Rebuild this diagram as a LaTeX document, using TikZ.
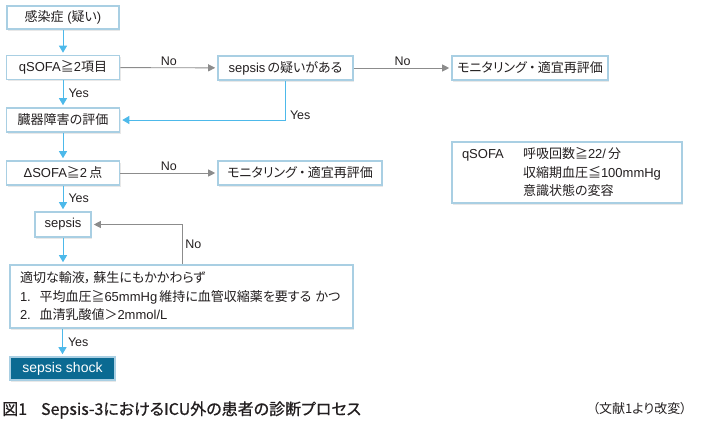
\documentclass[tikz,border=0pt]{standalone}
\usepackage{fontspec}
\setmainfont{Liberation Sans}
\newfontfamily\jpfont[RawFeature=+palt]{Noto Sans CJK JP}
\newfontfamily\jpcapfont[RawFeature=+palt,FakeBold=0.8]{Noto Sans CJK JP}
\newcommand\jx[1]{{\jpfont #1}}
\usetikzlibrary{arrows.meta,shadows}
\definecolor{boxline}{HTML}{A9CFE3}
\definecolor{arrblue}{HTML}{4DB9EA}
\definecolor{arrgray}{HTML}{8C8C8C}
\definecolor{shockfill}{HTML}{0B6A92}
\definecolor{txt}{HTML}{231F20}
\tikzset{
  box/.style={draw=boxline, line width=1.6pt, fill=white, inner sep=0pt, text=txt,
    font=\fontsize{13}{15}\selectfont,
    drop shadow={shadow xshift=1pt, shadow yshift=-1.5pt, opacity=0.18}},
  shockbox/.style={box, fill=shockfill, text=white, font=\fontsize{14}{16}\selectfont},
  barrow/.style={draw=arrblue, line width=1pt, -{Triangle[length=7pt,width=8pt]}, shorten >=2pt},
  garrow/.style={draw=arrgray, line width=0.9pt, -{Triangle[length=7pt,width=7pt]}, shorten >=2pt},
  lbl/.style={text=txt, font=\fontsize{12.5}{14}\selectfont, inner sep=2pt}
}
\begin{document}
\begin{tikzpicture}[x=1pt,y=-1pt]
\useasboundingbox (0,0) rectangle (723,426);
% boxes
\node[box, minimum width=112pt, minimum height=23pt] (n1) at (63,17.5) {\jx{感染症} (\jx{疑い})};
\node[box, minimum width=113pt, minimum height=24pt] (n2) at (63,67.5) {qSOFA\jx{≧}2\jx{項目}};
\node[box, minimum width=135pt, minimum height=24pt] (n3) at (285.5,68) {sepsis\,\jx{の疑いがある}};
\node[box, minimum width=156pt, minimum height=24pt] (n4) at (530,68) {\jx{モニタリング}\,\jx{・}\,\jx{適宜再評価}};
\node[box, minimum width=113pt, minimum height=24pt] (n5) at (63,120) {\jx{臓器障害の評価}};
\node[box, minimum width=113pt, minimum height=24pt] (n6) at (63,173) {ΔSOFA\jx{≧}2\,\jx{点}};
\node[box, minimum width=164pt, minimum height=24pt] (n7) at (300,173) {\jx{モニタリング}\,\jx{・}\,\jx{適宜再評価}};
\node[box, minimum width=56pt, minimum height=25pt] (n8) at (63,224.5) {sepsis};
\node[box, minimum width=343pt, minimum height=63pt, text width=323pt, align=left,
      font=\fontsize{13}{18.5}\selectfont] (n9) at (181.5,296.5)
  {\jx{適切な輸液，}\,\jx{蘇生にもかかわらず}\\
   1.\ \ \jx{平均血圧≧}65mmHg\,\jx{維持に血管収縮薬を要する}\ \jx{かつ}\\
   2.\ \ \jx{血清乳酸値＞}2mmol/L};
\node[shockbox, minimum width=105pt, minimum height=23pt] (n10) at (62.5,368.5) {sepsis shock};
\node[box, minimum width=230pt, minimum height=61pt, text width=210pt, align=left,
      font=\fontsize{13}{18.5}\selectfont] (q) at (567,172.5)
  {\makebox[61pt][l]{qSOFA}\jx{呼吸回数≧}22/\,\jx{分}\\
   \hspace*{61pt}\jx{収縮期血圧≦}100mmHg\\
   \hspace*{61pt}\jx{意識状態の変容}};
% connectors
\coordinate (nobend) at (182,226);
\draw[barrow] (n1) -- (n2);
\draw[garrow] (n2) -- node[lbl, above] {No} (n3);
\draw[garrow] (n3) -- node[lbl, above] {No} (n4);
\draw[barrow] (n2) -- node[lbl, right, xshift=3pt] {Yes} (n5);
\draw[barrow] (n3.south) |- node[lbl, pos=0.5, anchor=west, xshift=2pt, yshift=5pt] {Yes} (n5.east);
\draw[barrow] (n5) -- (n6);
\draw[garrow] (n6) -- node[lbl, above] {No} (n7);
\draw[barrow] (n6) -- node[lbl, right, xshift=3pt] {Yes} (n8);
\draw[garrow] (n9.north -| nobend) |- node[lbl, pos=0.25, right, xshift=1pt] {No} (n8.east);
\draw[barrow] (n8.south) -- (n8.south |- n9.north);
\draw[barrow] (n10.north |- n9.south) -- node[lbl, right, xshift=3pt] {Yes} (n10.north);
% caption
\node[anchor=west, inner sep=0pt, text=txt, font=\fontsize{16}{18}\selectfont] (cap) at (2,410)
  {\jpcapfont 図1\hspace{14pt}Sepsis-3におけるICU外の患者の診断プロセス};
\node[anchor=east, inner sep=0pt, text=txt, font=\fontsize{13}{15}\selectfont] (src) at (687,409)
  {\jpfont （文献1より改変）};
\end{tikzpicture}
\end{document}
